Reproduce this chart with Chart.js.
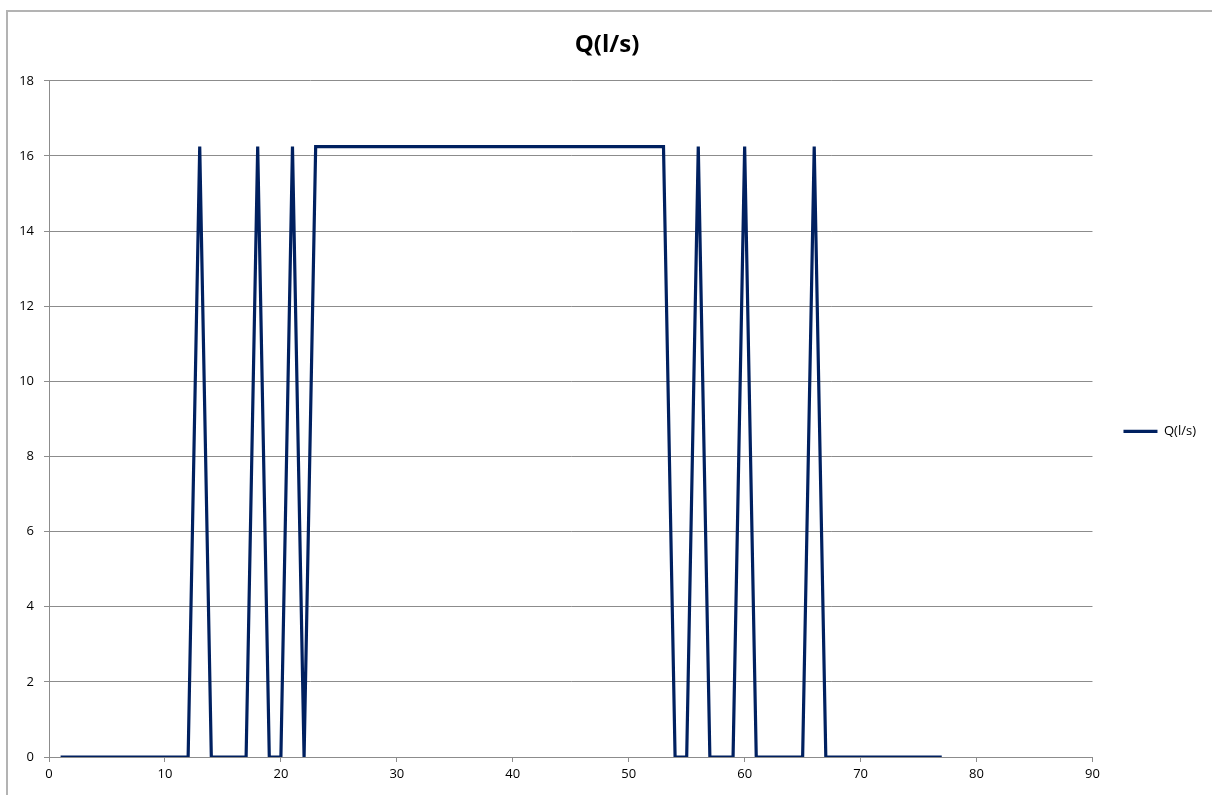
<!DOCTYPE html>
<html>
<head>
<meta charset="utf-8">
<script src="https://cdn.jsdelivr.net/npm/chart.js@4/dist/chart.umd.min.js"></script>
<style>
  html, body { margin: 0; padding: 0; background: #fff; }
  #wrap { position: relative; width: 1212px; height: 795px; overflow: hidden; }
  #frame { position: absolute; left: 6px; top: 10px; width: 1220px; height: 800px;
           border: 2px solid #b3b3b3; box-sizing: border-box; }
  #flowChart { position: absolute; left: 0; top: 0; }
</style>
</head>
<body>
<div id="wrap">
  <div id="frame"></div>
  <canvas id="flowChart" width="1212" height="795"></canvas>
</div>
<script>
// time step (x) and flow in l/s (y)
const steps = [1, 2, 3, 4, 5, 6, 7, 8, 9, 10, 11, 12, 13, 14, 15, 16, 17, 18, 19, 20,
  21, 22, 23, 24, 25, 26, 27, 28, 29, 30, 31, 32, 33, 34, 35, 36, 37, 38, 39, 40,
  41, 42, 43, 44, 45, 46, 47, 48, 49, 50, 51, 52, 53, 54, 55, 56, 57, 58, 59, 60,
  61, 62, 63, 64, 65, 66, 67, 68, 69, 70, 71, 72, 73, 74, 75, 76, 77]
const flow = [0, 0, 0, 0, 0, 0, 0, 0, 0, 0, 0, 0, 16.25, 0, 0, 0, 0, 16.25, 0, 0,
  16.25, 0, 16.25, 16.25, 16.25, 16.25, 16.25, 16.25, 16.25, 16.25, 16.25, 16.25, 16.25, 16.25, 16.25, 16.25, 16.25, 16.25, 16.25, 16.25,
  16.25, 16.25, 16.25, 16.25, 16.25, 16.25, 16.25, 16.25, 16.25, 16.25, 16.25, 16.25, 16.25, 0, 0, 16.25, 0, 0, 0, 16.25,
  0, 0, 0, 0, 0, 16.25, 0, 0, 0, 0, 0, 0, 0, 0, 0, 0, 0]
const seriesName = 'Q(l/s)'
const yTicks = [0, 2, 4, 6, 8, 10, 12, 14, 16, 18]
const xTicks = [0, 10, 20, 30, 40, 50, 60, 70, 80, 90]

const points = steps.map((s, i) => ({ x: s, y: flow[i] }))
const gridGray = '#8c8c8c'
const fontFam = "'Open Sans', 'Liberation Sans', sans-serif"

const ctx = document.getElementById('flowChart')

new Chart(ctx, {
  type: 'line',
  data: {
    datasets: [{
      label: seriesName,
      data: points,
      borderColor: '#002060',
      backgroundColor: '#002060',
      borderWidth: 3.2,
      pointRadius: 0,
      tension: 0,
      fill: false
    }]
  },
  options: {
    responsive: false,
    animation: false,
    layout: { padding: { left: 8, right: 6, top: 0, bottom: 0 } },
    plugins: {
      title: {
        display: true,
        text: seriesName,
        color: '#000',
        font: { family: fontFam, size: 24, weight: 'bold', lineHeight: 1.2 },
        padding: { top: 31, bottom: 21 }
      },
      legend: {
        position: 'right',
        // blank title block pushes the single entry down to the plot's middle
        title: { display: true, text: ' ', font: { size: 13 }, padding: { top: 0, bottom: 52 } },
        labels: {
          usePointStyle: true,
          pointStyle: 'line',
          pointStyleWidth: 34,
          color: '#000',
          font: { family: fontFam, size: 13 },
          padding: 31
        }
      },
      tooltip: { enabled: false }
    },
    scales: {
      x: {
        type: 'linear',
        min: 0,
        max: 90,
        afterBuildTicks: s => { s.ticks = xTicks.map(v => ({ value: v })) },
        afterFit: s => { s.height = 38 },
        grid: { drawOnChartArea: false, drawTicks: true, tickLength: 5, color: gridGray },
        border: { color: gridGray, width: 1 },
        ticks: { color: '#000', font: { family: fontFam, size: 13 }, padding: 4, maxRotation: 0 }
      },
      y: {
        min: 0,
        max: 18,
        afterBuildTicks: s => { s.ticks = yTicks.map(v => ({ value: v })) },
        afterFit: s => { s.width = 41 },
        grid: { color: gridGray, tickLength: 5 },
        border: { color: gridGray, width: 1 },
        ticks: { color: '#000', font: { family: fontFam, size: 13 }, padding: 10 }
      }
    }
  }
})
</script>
</body>
</html>
